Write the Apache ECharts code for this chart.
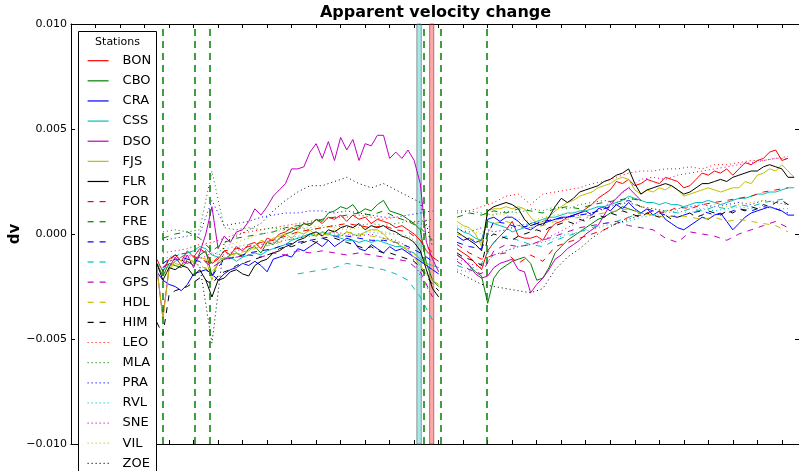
<!DOCTYPE html>
<html>
<head>
<meta charset="utf-8">
<script src="https://cdn.jsdelivr.net/npm/echarts@6/dist/echarts.min.js"></script>
<style>
  html, body { margin: 0; padding: 0; background: #ffffff; }
  #chart { width: 799px; height: 471px; }
</style>
</head>
<body>
<div id="chart"></div>
<script>
// Time axis is in months, counted from the first marked event (0).
// dv values are stored in units of 1e-4.
const DV_UNIT = 1e-4;

function monthGrid(start, step, count) {
  return Array.from({ length: count }, (_, i) => +(start + i * step).toFixed(4));
}
// weekly-ish sampling before and after the data gap
const fineLeft = monthGrid(-0.25, 0.25, 47);
const fineRight = monthGrid(12, 0.25, 56);
const coarseLeft = monthGrid(0, 0.5, 23);
const coarseRight = monthGrid(12, 0.5, 28);
const gapMonth = 11.6;

// event markers (months) and shaded periods
const eventMonths = [0, 1.30, 1.91, 10.65, 11.33, 13.20];
const bandCyan = [10.36, 10.54];
const bandRed = [10.88, 11.05];

// ---- station series (1e-4 units) ----
const bonL = [-12,-18,-12,-10,-13,-8,-11,-7,-9,-14,-12,-8,-10,-6,-8,-5,-4,-7,-2,-3,0,1,3,2,5,4,7,5,8,7,9,6,9,7,8,5,7,6,5,3,4,2,0,-3,-8,-11,-13];
const bonR = [-7,-9,-11,-14,-17,-8,-4,-1,2,6,-1,-2,-2,-1,-3,2,5,6,8,9,10,12,14,17,19,21,25,24,26,23,24,26,25,24,27,26,25,22,23,26,29,28,30,29,31,28,31,34,33,35,36,39,40,35,36];
const cboL = [-14,-20,-14,-15,-16,-13,-15,-10,-8,-20,-14,-12,-10,-9,-11,-7,-6,-9,-4,-5,-2,0,1,3,5,4,7,6,10,11,13,12,14,10,12,11,14,16,11,10,9,7,5,2,-14,-22,-25];
const cboR = [-10,-12,-15,-18,-20,-33,-21,-17,-15,-13,-12,-11,-14,-22,-21,-16,-9,-6,-3,-1,1,3,5,7,8,10,11,13,12,11,10];
const craL = [-18,-22,-24,-25,-27,-24,-19,-18,-17,-19,-22,-19,-17,-16,-14,-15,-13,-15,-18,-12,-11,-10,-11,-7,-8,-6,-4,-6,-3,-6,-4,-2,-3,-7,-8,-5,-7,-9,-6,-8,-7,-9,-11,-13,-15,-17,-19];
const craR = [-1,-3,-2,-4,-3,7,8,6,8,8,6,3,2,4,5,6,7,8,8,9,10,11,9,12,13,11,14,12,15,12,10,12,9,11,7,5,3,2,4,6,8,7,9,10,6,2,5,8,10,11,12,13,12,11,9,9];
const cssL = [-14,-17,-15,-13,-11,-9,-8,-6,-7,-10,-11,-12,-11,-13,-11,-10,-9,-10,-8,-7,-6,-5,-3,-2,-1,0,-1,1,0,-1,-2,-3,-3,-4,-3,-4,-3,-4,-5,-6,-6,-8,-9,-12,-14,-15,-16];
const cssR = [3,1,0,-2,-3,6,5,4,3,1,2,3,5,6,7,8,8,9,10,10,11,11,12,13,13,14,15,16,18,17,16,15,15,14,15,14,14,13,14,15,15,16,15,14,15,16,17,17,18,19,19,20,20,21,22,22];
const dsoL = [-16,-40,-16,-11,-15,-10,-16,-9,0,13,-7,-1,-4,1,2,6,12,9,13,18,21,24,31,31,32,39,43,36,44,35,46,40,45,35,43,42,47,47,36,39,36,40,35,24,-4,-12,-18];
const dsoR = [-10,-12,-15,-19,-21,-20,-16,-14,-13,-12,-17,-18,-28,-24,-21,-17,-12,-10,-7,-5,-3,0,2,4,9,14,17,20,22,19,16];
const fjsL = [-16,-40,-17,-14,-15,-12,-13,-11,-12,-22,-13,-11,-12,-9,-10,-8,-6,-3,-4,-2,-1,0,-2,1,0,2,-1,1,0,2,-1,1,0,-1,1,2,2,0,-3,-4,-6,-8,-11,-15,-19,-22,-24];
const fjsR = [6,4,3,0,-6,11,12,12,13,12,13,12,8,5,6,8,11,13,15,16,18,19,20,22,23,24,26,27,26,21,19,21,20,22,21,23,21,18,19,20,21,22,21,20,21,22,22,25,24,28,29,31,30,33,30,27];
const flrL = [-14,-22,-16,-17,-15,-16,-20,-17,-22,-30,-22,-21,-18,-17,-19,-20,-15,-13,-12,-9,-8,-6,-5,-3,-2,0,1,-1,2,1,3,4,3,5,2,4,3,4,2,1,-1,-2,-4,-8,-17,-26,-30];
const flrR = [1,-1,-3,-5,-8,11,13,14,15,14,12,7,4,5,4,8,13,17,15,17,20,21,22,23,25,26,28,29,31,24,19,21,22,23,24,23,21,19,20,22,24,24,25,26,25,27,28,29,30,30,32,33,32,31,27,27];
const forL = [-16,-10,-9,-12,-14,-8,-7,-6,-4,-3,-1,1,2,3,4,5,4,3,4,2,1,-3,-9];
const forR = [-5,-9,-12,-10,-9,-14,-10,-13,-6,-4,-2,0,2,5,8,9,11,10,13,12,14,15,16,17,18,20,21,22];
const freL = [-2,0,1,-2,-8,-4,-2,-1,0,1,3,4,5,7,8,9,10,9,11,8,6,3,-3];
const freR = [8,10,9,11,10,12,11,10,12,13,12,14,15,16,17,16];
const gbsL = [-14,-10,-12,-13,-20,-12,-11,-9,-8,-7,-5,-4,-3,-2,-1,-1,-2,-3,-3,-4,-6,-9,-13];
const gbsR = [-4,-6,-7,6,5,3,4,6,7,8,9,10,12,14,16,13,11,9,8,10,11,9,10,12,11,13,12,10];
const gpnL = [null,null,null,null,null,null,null,null,null,null,null,-19,-18,-17,-16,-14,-15,-16,-17,-19,-22,-30,-41];
const gpnR = [-15,-17,-14,-4,-1,-3,-5,-6,-3,-1,1,3,5,6,8,10,9,11,10,12,11,13,12,14,13,15,16,17];
const gpsL = [-16,-12,-14,-11,-16,-12,-11,-10,-11,-9,-10,-8,-9,-8,-9,-10,-9,-10,-11,-12,-13,-18,-30];
const gpsR = [-13,-17,-19,-8,-5,-6,-5,-3,-1,1,3,4,5,6,4,3,2,-2,-4,1,0,-1,-3,0,2,4,6,3];
const hdlL = [-20,-13,-12,-15,-18,-11,-9,-8,-6,-5,-3,-2,-1,0,-1,1,0,-1,-2,-4,-7,-12,-17];
const hdlR = [0,-2,-4,5,6,4,3,4,6,7,8,9,10,11,12,10,9,8,9,8,7,8,6,7,6,5,4,1];
const himL = [-42,-48,-29,-27,-26,-25,-23,-21,-22,-24,-20,-18,-17,-15,-14,-13,-12,-11,-10,-9,-7,-6,-6,-5,-4,-3,-4,-2,-3,-2,-3,-4,-5,-6,-7,-6,-8,-9,-9,-10,-11,-12,-13,-16,-20,-24,-27];
const himR = [-9,-11,-12,-13,-15,-2,0,-1,-2,-3,-1,0,1,2,1,3,4,5,6,5,7,6,8,9,8,10,9,11,10,9,8,10,9,8,9,7,8,9,10,8,9,11,10,9,11,10,12,11,13,12,14,13,15,16,14,15];
const leoL = [-9,-8,-7,-5,-4,-2,0,1,2,3,4,5,6,7,8,8,9,8,7,8,6,5,3];
const leoR = [11,11,13,15,18,19,14,19,20,21,22,24,25,27,29,30,30,31,31,32,31,33,33,34,35,35,36,36];
const mlaL = [1,2,1,2,30,3,2,3,2,3,2,3,2,3,4,3,4,5,4,5,6,6,7];
const mlaR = [10,11,10,9,11,10,12,11,13,12,14,15,16,15,17,16];
const praL = [-3,-2,-1,0,16,4,5,6,8,9,10,10,11,11,10,11,10,9,8,8,9,10,11];
const praR = [2,1,3,1,2,4,5,6,7,8,9,10,12,14,15,13,12,11,12,13,14,13,14,15,14,16,15,14];
const rvlL = [-12,-10,-9,-8,-10,-7,-6,-5,-4,-3,-2,-1,0,1,0,-1,0,1,0,0,-1,-5,-12];
const rvlR = [-17,-18,-16,-10,-8,-6,-5,-4,-2,0,1,2,4,5,6,8,9,10,11,10,12,11,12,13,12,13,12,12];
const sneL = [-14,-12,-10,-12,-9,-10,-8,-6,-5,-4,-3,-2,-1,0,1,0,-1,0,-2,-3,-6,-20,-30];
const sneR = [-12,-14,-16,-10,-8,-6,-5,-3,0,3,6,9,13,17,22,26,27,26,28,29,30,31,32,33,34,35,36,37];
const vilL = [-18,-12,-10,-11,-13,-6,-4,-2,0,1,2,3,3,4,3,2,3,2,1,0,-2,-6,-12];
const vilR = [4,2,0,10,9,7,6,8,9,10,11,12,13,14,15,13,12,11,12,13,12,14,13,14,15,16,15,14];
const zoeL = [-14,-12,-13,-15,-52,-4,-1,2,5,11,16,20,23,23,25,27,24,22,24,21,18,15,-6];
const zoeR = [-18,-21,-24,-25,-26,-27,-28,-26,-17,-11,-7,-2,2,5,7,9];

const yTicks = { min: -0.010, max: 0.010, step: 0.005 };

// matplotlib "classic" single-letter colours
const COLORS = { r: '#ff0000', g: '#008000', b: '#0000ff', c: '#00bfbf', m: '#bf00bf', y: '#bfbf00', k: '#000000' };
const DASH = { solid: 'solid', dashed: [6, 6], dotted: [1, 3] };

// name, colour, style, left grid, left values, right grid, right values
const stations = [
  ['BON', 'r', 'solid', fineLeft, bonL, fineRight, bonR],
  ['CBO', 'g', 'solid', fineLeft, cboL, fineRight, cboR],
  ['CRA', 'b', 'solid', fineLeft, craL, fineRight, craR],
  ['CSS', 'c', 'solid', fineLeft, cssL, fineRight, cssR],
  ['DSO', 'm', 'solid', fineLeft, dsoL, fineRight, dsoR],
  ['FJS', 'y', 'solid', fineLeft, fjsL, fineRight, fjsR],
  ['FLR', 'k', 'solid', fineLeft, flrL, fineRight, flrR],
  ['FOR', 'r', 'dashed', coarseLeft, forL, coarseRight, forR],
  ['FRE', 'g', 'dashed', coarseLeft, freL, coarseRight, freR],
  ['GBS', 'b', 'dashed', coarseLeft, gbsL, coarseRight, gbsR],
  ['GPN', 'c', 'dashed', coarseLeft, gpnL, coarseRight, gpnR],
  ['GPS', 'm', 'dashed', coarseLeft, gpsL, coarseRight, gpsR],
  ['HDL', 'y', 'dashed', coarseLeft, hdlL, coarseRight, hdlR],
  ['HIM', 'k', 'dashed', fineLeft, himL, fineRight, himR],
  ['LEO', 'r', 'dotted', coarseLeft, leoL, coarseRight, leoR],
  ['MLA', 'g', 'dotted', coarseLeft, mlaL, coarseRight, mlaR],
  ['PRA', 'b', 'dotted', coarseLeft, praL, coarseRight, praR],
  ['RVL', 'c', 'dotted', coarseLeft, rvlL, coarseRight, rvlR],
  ['SNE', 'm', 'dotted', coarseLeft, sneL, coarseRight, sneR],
  ['VIL', 'y', 'dotted', coarseLeft, vilL, coarseRight, vilR],
  ['ZOE', 'k', 'dotted', coarseLeft, zoeL, coarseRight, zoeR]
];

const FONT = 'DejaVu Sans, Verdana, sans-serif';

function toPoints(grid, vals) {
  return vals.map((v, i) => [grid[i], v == null ? '-' : v * DV_UNIT]);
}

const stationSeries = stations.map(([name, c, style, gl, vl, gr, vr]) => ({
  name: name,
  type: 'line',
  data: toPoints(gl, vl).concat([[gapMonth, '-']], toPoints(gr, vr)),
  showSymbol: false,
  symbol: 'none',
  legendIcon: 'none',
  connectNulls: false,
  animation: false,
  silent: true,
  color: COLORS[c],
  lineStyle: { color: COLORS[c], width: 1, type: DASH[style] },
  emphasis: { disabled: true },
  z: 2
}));

const eventSeries = {
  name: 'events',
  type: 'line',
  data: [],
  silent: true,
  animation: false,
  z: 3,
  markLine: {
    silent: true,
    symbol: 'none',
    animation: false,
    label: { show: false },
    emphasis: { disabled: true },
    lineStyle: { color: '#008000', width: 1.5, type: [7, 5] },
    data: eventMonths.map(m => ({ xAxis: m }))
  },
  markArea: {
    silent: true,
    animation: false,
    label: { show: false },
    data: [
      [{ xAxis: bandCyan[0], itemStyle: { color: 'rgba(0,191,191,0.35)', borderColor: 'rgba(90,90,90,0.6)', borderWidth: 1 } }, { xAxis: bandCyan[1] }],
      [{ xAxis: bandRed[0], itemStyle: { color: 'rgba(255,0,0,0.35)', borderColor: 'rgba(120,60,60,0.6)', borderWidth: 1 } }, { xAxis: bandRed[1] }]
    ]
  }
};

const xBase = {
  type: 'value', min: -3.75, max: 25.95, interval: 1,
  axisLine: { show: true, onZero: false, lineStyle: { color: '#000', width: 1 } },
  axisTick: { show: true, inside: true, length: 4, lineStyle: { color: '#000', width: 1 } },
  axisLabel: { show: false },
  splitLine: { show: false }
};
const yBase = {
  type: 'value', min: yTicks.min, max: yTicks.max, interval: yTicks.step,
  axisLine: { show: true, onZero: false, lineStyle: { color: '#000', width: 1 } },
  axisTick: { show: true, inside: true, length: 4, lineStyle: { color: '#000', width: 1 } },
  splitLine: { show: false }
};

const chart = echarts.init(document.getElementById('chart'), null, { renderer: 'canvas' });
chart.setOption({
  animation: false,
  backgroundColor: '#ffffff',
  textStyle: { fontFamily: FONT },
  grid: { left: 71, right: -1, top: 24, bottom: 27, containLabel: false },
  xAxis: [
    Object.assign({}, xBase, { position: 'bottom' }),
    Object.assign({}, xBase, { position: 'top' })
  ],
  yAxis: [
    Object.assign({}, yBase, {
      position: 'left',
      axisLabel: {
        show: true, margin: 4, color: '#000', fontSize: 11, fontFamily: FONT,
        formatter: v => (v < 0 ? '\u2212' : '') + Math.abs(v).toFixed(3)
      }
    }),
    Object.assign({}, yBase, { position: 'right', axisLabel: { show: false } })
  ],
  legend: {
    orient: 'vertical',
    left: 87,
    top: 53.7,
    height: 440,
    padding: 0,
    itemWidth: 21,
    itemHeight: 14,
    itemGap: 6.13,
    selectedMode: false,
    z: 20,
    itemStyle: { opacity: 0 },
    lineStyle: { width: 1.2 },
    data: stations.map(s => s[0]),
    textStyle: { fontSize: 13, color: '#000', fontFamily: FONT, lineHeight: 14, padding: [0, 0, 0, 9] }
  },
  graphic: [
    { type: 'rect', z: 15, silent: true, shape: { x: 78.5, y: 31.5, width: 78, height: 470 },
      style: { fill: '#ffffff', stroke: '#000000', lineWidth: 1 } },
    { type: 'text', z: 16, silent: true, x: 117.5, y: 42,
      style: { text: 'Stations', fill: '#000', font: '11px ' + FONT, textAlign: 'center', textVerticalAlign: 'middle' } },
    { type: 'text', z: 16, silent: true, x: 435.5, y: 13,
      style: { text: 'Apparent velocity change', fill: '#000', font: 'bold 16px ' + FONT, textAlign: 'center', textVerticalAlign: 'middle' } },
    { type: 'text', z: 16, silent: true, x: 15, y: 234, rotation: Math.PI / 2,
      style: { text: 'dv', fill: '#000', font: 'bold 15px ' + FONT, textAlign: 'center', textVerticalAlign: 'middle' } }
  ],
  series: stationSeries.concat([eventSeries])
});
</script>
</body>
</html>
